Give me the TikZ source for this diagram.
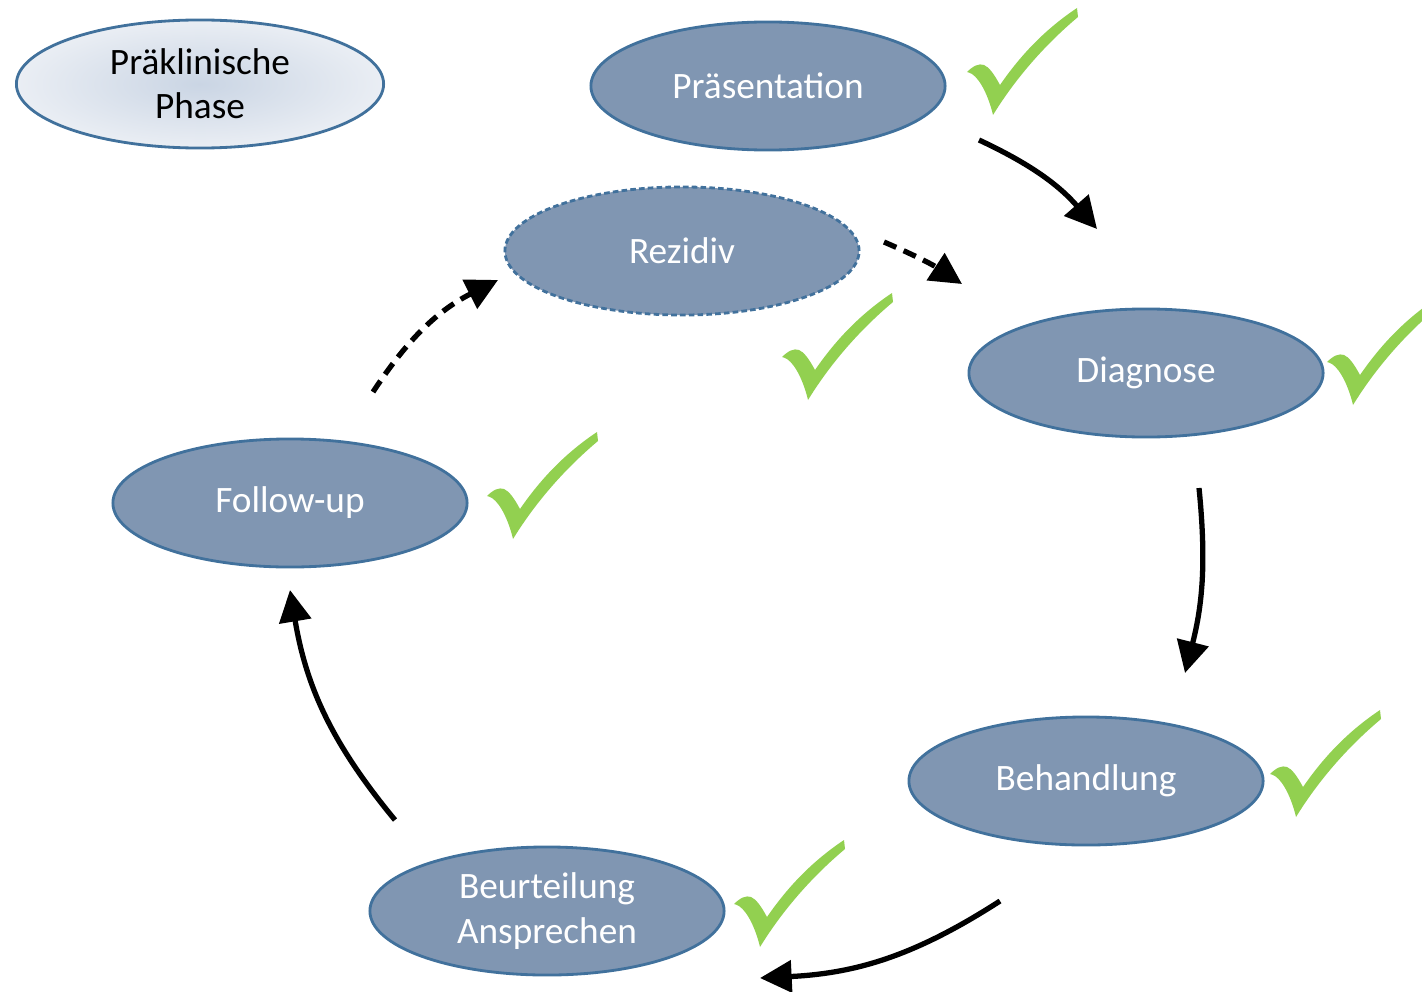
\documentclass[tikz,border=0pt]{standalone}
\usepackage{fontspec}
\setmainfont{Carlito}
\usetikzlibrary{shapes.geometric,arrows.meta}
\definecolor{knotenblau}{RGB}{128,150,178}
\definecolor{randblau}{RGB}{65,113,156}
\definecolor{hakengruen}{RGB}{146,208,80}
\definecolor{innenhell}{RGB}{202,213,228}
\definecolor{aussenhell}{RGB}{234,238,244}
\tikzset{
	phase/.style={ellipse, draw=randblau, line width=0.8pt, fill=knotenblau, text=white,
		minimum width=3.54cm, minimum height=1.28cm, inner sep=0pt, align=center,
		font=\fontsize{10.6}{12.6}\selectfont},
	vorphase/.style={phase, minimum width=3.67cm, text=black, fill=none,
		inner color=innenhell, outer color=aussenhell},
	gestrichelt/.style={dash pattern=on 1.6pt off 0.9pt},
	pfeil/.style={line width=1.5pt, -{Triangle[length=9pt,width=9pt]}},
	pfeilgestrichelt/.style={pfeil, dash pattern=on 3.8pt off 2.3pt}
}
\def\haken(#1){\fill[hakengruen,shift={(#1)}] (0,64) .. controls (6,58) and (12,55) .. (17,57) .. controls (22,59) and (27,66) .. (33,77) .. controls (55,45) and (80,20) .. (110,0) -- (111,9) .. controls (80,35) and (50,68) .. (26,107) .. controls (22,90) and (14,72) .. (5,66) .. controls (3,65) and (1,64) .. cycle;}

\begin{document}
\begin{tikzpicture}[x=0.01cm, y=-0.01cm]
		%%%%% RAHMEN %%%%%
		\useasboundingbox (0,0) rectangle (1422,991);
		\clip (0,0) rectangle (1422,991);
		
		%%%%% PHASEN %%%%%
		\node[vorphase] (vor) at (200,84) {Präklinische\\Phase};
		\node[phase] (praes) at (768,86) {Präsentation};
		\node[phase, gestrichelt] (rez) at (682,251) {Rezidiv};
		\node[phase] (diag) at (1146,373) {Diagnose};
		\node[phase] (follow) at (290,503) {Follow-up};
		\node[phase] (beh) at (1086,781) {Behandlung};
		\node[phase] (beurt) at (547,911) {Beurteilung\\Ansprechen};
		
		%%%%% HAKEN %%%%%
		\haken(967,8)
		\haken(782,293)
		\haken(1327,298)
		\haken(487,432)
		\haken(1270,710)
		\haken(734,840)
		
		%%%%% PFEILE %%%%%
		\coordinate (p1a) at (979,140);
		\coordinate (p1b) at (1097,229);
		\coordinate (p2a) at (1199,488);
		\coordinate (p2b) at (1185,673);
		\coordinate (p3a) at (1000,901);
		\coordinate (p3b) at (760,978);
		\coordinate (p4a) at (395,820);
		\coordinate (p4b) at (290,590);
		\coordinate (p5a) at (373,392);
		\coordinate (p5b) at (498,280);
		\coordinate (p6a) at (884,242);
		\coordinate (p6b) at (962,284);
		
		\draw[pfeil] (p1a) to[bend left=12] (p1b);
		\draw[pfeil] (p2a) to[bend left=10] (p2b);
		\draw[pfeil] (p3a) to[bend left=15] (p3b);
		\draw[pfeil] (p4a) to[bend left=15] (p4b);
		\draw[pfeilgestrichelt] (p5a) to[bend left=15] (p5b);
		\draw[pfeilgestrichelt] (p6a) to[bend left=5] (p6b);
\end{tikzpicture}
\end{document}
